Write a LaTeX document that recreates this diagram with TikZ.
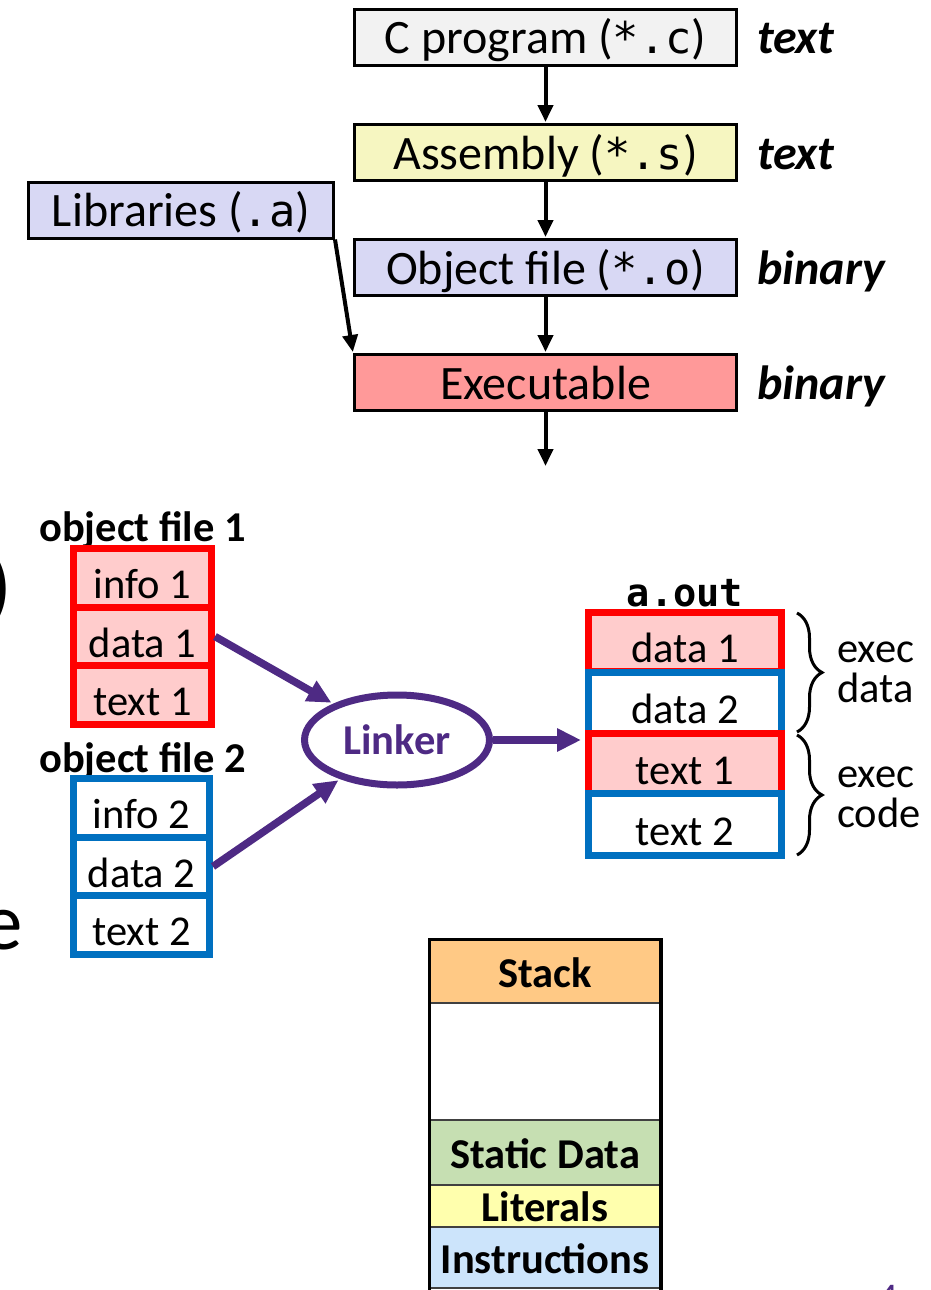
\documentclass[tikz,border=0pt]{standalone}
\usepackage{fontspec}
\setmainfont{Carlito}
\setmonofont[Scale=0.91]{DejaVu Sans Mono}
\usetikzlibrary{arrows.meta,decorations.pathreplacing,shapes.geometric}
\definecolor{progGray}{HTML}{F2F2F2}
\definecolor{asmYellow}{HTML}{F6F6C1}
\definecolor{objLav}{HTML}{D8D8F4}
\definecolor{exeRed}{HTML}{FF9999}
\definecolor{secPink}{HTML}{FFCCCC}
\definecolor{secRed}{HTML}{FF0000}
\definecolor{secBlue}{HTML}{0070C0}
\definecolor{nuPurple}{HTML}{4E2A84}
\definecolor{stackOrange}{HTML}{FFC985}
\definecolor{staticGreen}{HTML}{C6DFB2}
\definecolor{litYellow}{HTML}{FFFFAD}
\definecolor{instrBlue}{HTML}{CCE4FB}
\newcommand{\bigsize}{\fontsize{48}{52}\selectfont}
\newcommand{\midsize}{\fontsize{42.5}{40}\selectfont}
\newcommand{\hugesize}{\fontsize{81}{90}\selectfont}
\begin{document}
\begin{tikzpicture}[x=1pt,y=-1pt,
    stage/.style={draw,line width=3pt,minimum width=382pt,minimum height=56pt,inner sep=0pt,
      font=\bigsize,text height=33pt,text depth=0pt},
    kind/.style={anchor=west,inner sep=0pt,font=\bigsize\bfseries\itshape,text height=33pt,text depth=0pt},
    flow/.style={-{Triangle[length=17pt,width=15pt]},line width=4pt,shorten >=1pt},
    link/.style={-{Triangle[length=24pt,width=22pt]},line width=7.5pt,draw=nuPurple,shorten >=2pt},
    cell/.style={line width=7pt,inner sep=0pt,font=\midsize,text height=41pt,text depth=0pt},
    redcell/.style={cell,draw=secRed,fill=secPink},
    bluecell/.style={cell,draw=secBlue,fill=white},
    mem/.style={draw=black!75,line width=1.5pt,minimum width=230pt,inner sep=0pt,
      font=\midsize\bfseries,text height=31pt,text depth=0pt},
    title/.style={anchor=base,inner sep=0pt,font=\midsize\bfseries},
    brc/.style={decorate,decoration={brace,amplitude=25pt},line width=3pt}]
\clip (0,0) rectangle (930,1290);

\node[stage,fill=progGray] (cprog) at (545.5,37.5) {C program (\texttt{*.c})};
\node[stage,fill=asmYellow] (asm) at (545.5,152.5) {Assembly (\texttt{*.s})};
\node[stage,fill=objLav] (obj) at (545.5,267.5) {Object file (\texttt{*.o})};
\node[stage,fill=exeRed] (exe) at (545.5,382.5) {Executable};
\node[stage,fill=objLav,minimum width=305pt] (lib) at (181,210) {Libraries (\texttt{.a})};
\node[kind] (k1) at (757,37.5) {text};
\node[kind] (k2) at (757,152.5) {text};
\node[kind] (k3) at (757,267.5) {binary};
\node[kind] (k4) at (757,382.5) {binary};
\coordinate (run) at (545.5,467);
\draw[flow] (cprog) -- (asm);
\draw[flow] (asm) -- (obj);
\draw[flow] (obj) -- (exe);
\draw[flow] (exe) -- (run);
\draw[flow] (lib.south east) -- (exe.north west);

\node[title] (of1) at (142.5,541) {object file 1};
\node[redcell,minimum width=138pt,minimum height=59pt] (info1) at (142.5,577.5) {info 1};
\node[redcell,minimum width=138pt,minimum height=59pt] (data1) at (142.5,636.5) {data 1};
\node[redcell,minimum width=138pt,minimum height=59pt] (text1) at (142.5,695) {text 1};
\node[title] (of2) at (142.5,772) {object file 2};
\node[bluecell,minimum width=136pt,minimum height=59pt] (info2) at (141.5,808) {info 2};
\node[bluecell,minimum width=136pt,minimum height=59pt] (data2) at (141.5,866.5) {data 2};
\node[bluecell,minimum width=136pt,minimum height=59pt] (text2) at (141.5,925) {text 2};

\node[ellipse,draw=nuPurple,line width=7pt,minimum width=185pt,minimum height=90pt,inner sep=0pt,
  text=nuPurple,font=\midsize\bfseries] (linker) at (397,740) {Linker};
\draw[link] (data1.east) -- (linker);
\draw[link] (data2.east) -- (linker);

\node[title,font=\midsize\ttfamily\bfseries] (aout) at (685,606) {a.out};
\node[redcell,minimum width=193pt,minimum height=59.5pt] (od1) at (685,642) {data 1};
\node[bluecell,minimum width=193pt,minimum height=61pt] (od2) at (685,702.5) {data 2};
\node[redcell,minimum width=193pt,minimum height=61pt] (ot1) at (685,763.5) {text 1};
\node[bluecell,minimum width=193pt,minimum height=61.5pt] (ot2) at (685,824.5) {text 2};
\draw[link,shorten >=4pt] (linker.east) -- (linker.east -| od2.west);

\coordinate (b1) at (797,613);
\coordinate (b2) at (797,732);
\coordinate (b3) at (797,735);
\coordinate (b4) at (797,855);
\draw[brc] (b1) -- (b2);
\draw[brc] (b3) -- (b4);
\node[anchor=west,align=left,inner sep=0pt,font=\midsize] (xdata) at (837,672) {exec\\data};
\node[anchor=west,align=left,inner sep=0pt,font=\midsize] (xcode) at (837,797) {exec\\code};

\node[mem,fill=stackOrange,minimum height=63pt] (stack) at (545,971.5) {Stack};
\node[mem,fill=white,minimum height=117pt] (heap) at (545,1061.5) {};
\node[mem,fill=staticGreen,minimum height=65pt] (static) at (545,1152.5) {Static Data};
\node[mem,fill=litYellow,minimum height=42pt] (lits) at (545,1206) {Literals};
\node[mem,fill=instrBlue,minimum height=61pt] (instr) at (545,1257.5) {Instructions};
\draw[line width=3.5pt] ([yshift=-20pt]instr.south west) |- (stack.north east)
  -- ([yshift=-20pt]instr.south east);

\node[anchor=base east,inner sep=0pt,font=\hugesize] (paren) at (12,613) {)};
\node[anchor=base east,inner sep=0pt,font=\hugesize] (ee) at (23,949) {e};
\node[anchor=base,inner sep=0pt,font=\fontsize{28}{30}\selectfont\bfseries,text=nuPurple] (pg) at (889,1303) {4};
\end{tikzpicture}
\end{document}
